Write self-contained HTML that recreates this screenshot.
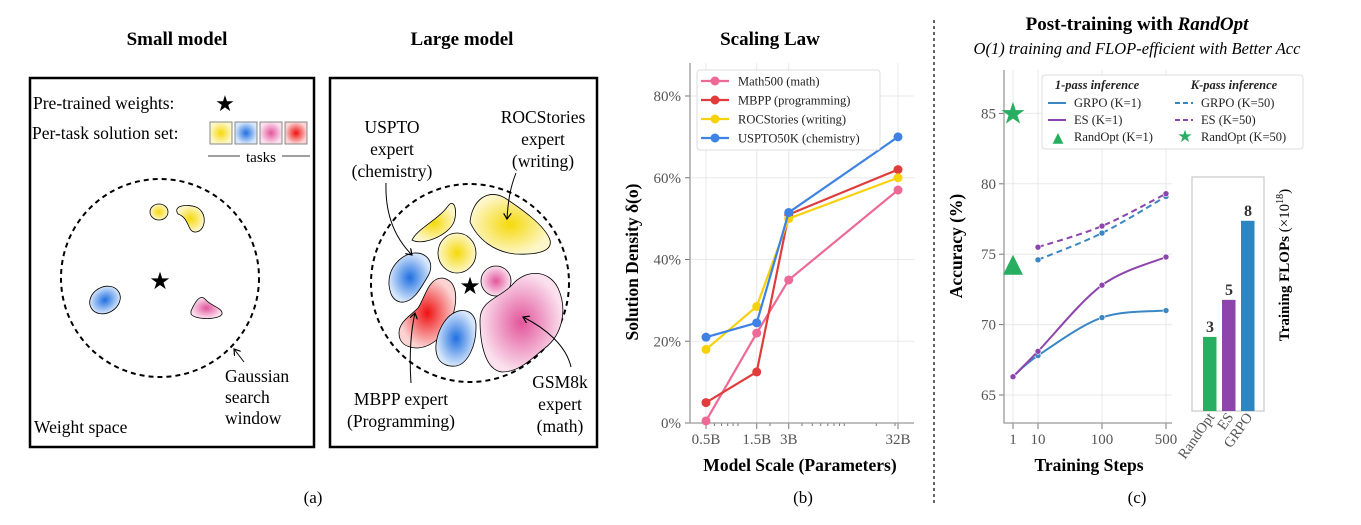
<!DOCTYPE html>
<html><head><meta charset="utf-8"><style>
html,body{margin:0;padding:0;background:#fff;}
svg{display:block;font-family:"Liberation Serif",serif;}
</style></head><body>
<svg id="fig" width="1361" height="525" viewBox="0 0 1361 525" xmlns="http://www.w3.org/2000/svg">
<defs>
<radialGradient id="gy"><stop offset="0" stop-color="#f5d90a"/><stop offset="1" stop-color="#fdf6c8"/></radialGradient>
<radialGradient id="gb"><stop offset="0" stop-color="#1f6fe0"/><stop offset="1" stop-color="#d6e6fb"/></radialGradient>
<radialGradient id="gp"><stop offset="0" stop-color="#e2559b"/><stop offset="1" stop-color="#fbe0ee"/></radialGradient>
<radialGradient id="gr"><stop offset="0" stop-color="#ee1111"/><stop offset="1" stop-color="#fbd3d3"/></radialGradient>
<marker id="ah" markerWidth="8" markerHeight="8" refX="6" refY="4" orient="auto"><path d="M0,0 L6,4 L0,8" fill="none" stroke="#000" stroke-width="1.2"/></marker>
</defs>

<!-- Panel (a) -->
<g>
<text x="177" y="45" text-anchor="middle" font-size="19" font-weight="bold">Small model</text>
<text x="462" y="45" text-anchor="middle" font-size="19" font-weight="bold">Large model</text>
<rect x="30" y="78" width="284" height="369" fill="none" stroke="#000" stroke-width="2.5"/>
<rect x="330" y="78" width="267" height="369" fill="none" stroke="#000" stroke-width="2.5"/>
<text x="33" y="109" font-size="17.5">Pre-trained weights:</text>
<text x="225" y="111" text-anchor="middle" font-size="22" font-family="DejaVu Sans">★</text>
<text x="32" y="139" font-size="17.5">Per-task solution set:</text>
<rect x="210" y="122" width="22" height="22" fill="url(#gy)" stroke="#888"/>
<rect x="235" y="122" width="22" height="22" fill="url(#gb)" stroke="#888"/>
<rect x="260" y="122" width="22" height="22" fill="url(#gp)" stroke="#888"/>
<rect x="285" y="122" width="22" height="22" fill="url(#gr)" stroke="#888"/>
<line x1="208" y1="156" x2="240" y2="156" stroke="#000" stroke-width="0.8"/><line x1="282" y1="156" x2="310" y2="156" stroke="#000" stroke-width="0.8"/>
<text x="261" y="162" text-anchor="middle" font-size="15">tasks</text>
<circle cx="160" cy="278" r="99" fill="none" stroke="#000" stroke-width="2" stroke-dasharray="5,4"/>
<ellipse cx="159" cy="212" rx="9" ry="8" fill="url(#gy)" stroke="#000" stroke-width="0.8"/>
<path d="M178,214 C172,205 188,204 196,207 C208,212 206,231 196,232 C187,233 190,218 178,214Z" fill="url(#gy)" stroke="#000" stroke-width="0.8"/>
<ellipse cx="105" cy="300" rx="16" ry="13" transform="rotate(-30 105 300)" fill="url(#gb)" stroke="#000" stroke-width="0.8"/>
<path d="M191,311 C195,302 200,293 206,300 C211,306 223,308 222,314 C220,320 194,320 191,314Z" fill="url(#gp)" stroke="#000" stroke-width="0.8"/>
<text x="160" y="289" text-anchor="middle" font-size="24" font-family="DejaVu Sans">★</text>
<line x1="244" y1="362" x2="234" y2="349" stroke="#000" stroke-width="1" marker-end="url(#ah)"/>
<text font-size="17.5"><tspan x="225" y="382">Gaussian</tspan><tspan x="225" y="403">search</tspan><tspan x="225" y="424">window</tspan></text>
<text x="34" y="433" font-size="17.5">Weight space</text>

<circle cx="470" cy="283" r="99" fill="none" stroke="#000" stroke-width="2" stroke-dasharray="5,4"/>
<path d="M412,240 C418,228 438,220 448,206 C454,198 458,210 454,222 C448,236 422,246 412,240Z" fill="url(#gy)" stroke="#000" stroke-width="0.8"/>
<ellipse cx="457" cy="253" rx="19" ry="20" fill="url(#gy)" stroke="#000" stroke-width="0.8"/>
<path d="M470,222 C472,200 488,188 505,198 C520,208 545,225 550,240 C553,252 535,255 515,254 C495,252 478,240 470,222Z" fill="url(#gy)" stroke="#000" stroke-width="0.8"/>
<path d="M389,285 C388,268 400,255 414,253 C428,252 435,264 428,276 C420,290 412,304 400,302 C392,300 390,293 389,285Z" fill="url(#gb)" stroke="#000" stroke-width="0.8"/>
<path d="M399,333 C399,322 410,316 418,308 C425,298 428,278 442,278 C458,280 458,300 452,318 C446,334 432,348 416,348 C404,347 399,342 399,333Z" fill="url(#gr)" stroke="#000" stroke-width="0.8"/>
<path d="M438,358 C432,345 440,322 452,314 C464,306 477,312 476,328 C476,345 468,364 456,366 C448,367 441,364 438,358Z" fill="url(#gb)" stroke="#000" stroke-width="0.8"/>
<circle cx="496" cy="281" r="15" fill="url(#gp)" stroke="#000" stroke-width="0.8"/>
<path d="M480,320 C480,300 500,298 512,285 C524,270 548,268 558,288 C568,310 562,335 545,348 C532,358 520,372 502,372 C484,370 480,340 480,320Z" fill="url(#gp)" stroke="#000" stroke-width="0.8"/>
<text x="470" y="294" text-anchor="middle" font-size="24" font-family="DejaVu Sans">★</text>
<text text-anchor="middle" font-size="17.5"><tspan x="392" y="133">USPTO</tspan><tspan x="392" y="155">expert</tspan><tspan x="392" y="177">(chemistry)</tspan></text>
<text text-anchor="middle" font-size="17.5"><tspan x="543" y="123">ROCStories</tspan><tspan x="543" y="145">expert</tspan><tspan x="543" y="167">(writing)</tspan></text>
<text text-anchor="middle" font-size="17.5"><tspan x="401" y="405">MBPP expert</tspan><tspan x="401" y="427">(Programming)</tspan></text>
<text text-anchor="middle" font-size="17.5"><tspan x="560" y="388">GSM8k</tspan><tspan x="560" y="410">expert</tspan><tspan x="560" y="432">(math)</tspan></text>
<path d="M386,183 C385,215 395,238 412,255" fill="none" stroke="#000" stroke-width="1" marker-end="url(#ah)"/>
<path d="M516,173 C510,188 508,202 507,219" fill="none" stroke="#000" stroke-width="1" marker-end="url(#ah)"/>
<path d="M411,383 C409,355 411,330 415,313" fill="none" stroke="#000" stroke-width="1" marker-end="url(#ah)"/>
<path d="M571,367 C566,345 545,328 523,317" fill="none" stroke="#000" stroke-width="1" marker-end="url(#ah)"/>
<text x="313" y="503" text-anchor="middle" font-size="17">(a)</text>
</g>

<line x1="934" y1="20" x2="934" y2="505" stroke="#000" stroke-width="1.2" stroke-dasharray="3,3"/>
<text x="803" y="503" text-anchor="middle" font-size="17">(b)</text>
<text x="1137" y="503" text-anchor="middle" font-size="17">(c)</text>
<text x="770" y="45" text-anchor="middle" font-size="19" font-weight="bold">Scaling Law</text>
<text x="1137" y="30" text-anchor="middle" font-size="19" font-weight="bold">Post-training with <tspan font-style="italic">RandOpt</tspan></text>
<text x="1137" y="54" text-anchor="middle" font-size="16.5" font-style="italic">O(1) training and FLOP-efficient with Better Acc</text>
<g id="pb"></g>
<g id="pc"></g>
</svg>
<script>
// ---- Panel b data ----
const scaleModels = [0.5, 1.5, 3, 32];
const scaleLabels = ["0.5B", "1.5B", "3B", "32B"];
const yTicksB = [0, 20, 40, 60, 80];
const seriesNamesB = ["Math500 (math)", "MBPP (programming)", "ROCStories (writing)", "USPTO50K (chemistry)"];
const math500 = [0.5, 22, 35, 57];
const mbpp = [5, 12.5, 51, 62];
const rocstories = [18, 28.5, 50, 60];
const uspto = [21, 24.5, 51.5, 70];
const colorsB = ["#ec6a95", "#e03c3c", "#f7d10c", "#3e82e4"];

// ---- Panel c data ----
const steps = [1, 10, 100, 500];
const yTicksC = [65, 70, 75, 80, 85];
const grpoK1 = [66.3, 67.8, 70.5, 71.0];
const esK1 = [66.3, 68.1, 72.8, 74.8];
const grpoK50 = [null, 74.6, 76.5, 79.1];
const esK50 = [null, 75.5, 77.0, 79.3];
const randoptK1 = 74.4;
const randoptK50 = 85;
const flopMethods = ["RandOpt", "ES", "GRPO"];
const flopValues = [3.0, 4.5, 7.7];
const flopLabels = ["3", "5", "8"];

const NS = "http://www.w3.org/2000/svg";
function mk(parent, tag, attrs, txt) {
  const e = document.createElementNS(NS, tag);
  for (const k in attrs) e.setAttribute(k, attrs[k]);
  if (txt !== undefined) e.textContent = txt;
  parent.appendChild(e);
  return e;
}
const GRID = "#e8e8e8", TXT = "#555";

// ---------- Panel b ----------
const pb = document.getElementById("pb");
const xB = v => 706 + 106.3 * Math.log10(v / 0.5);
const yB = v => 423 - v * 4.0875;
yTicksB.forEach(t => {
  const g = mk(pb, "line", {x1: 690, x2: 914, y1: yB(t), y2: yB(t), stroke: GRID, "stroke-width": 1});
  
  
  const tk = mk(pb, "line", {x1: 685, x2: 690, y1: yB(t), y2: yB(t), stroke: "#777"});
  
  
  const l = mk(pb, "text", {x: 681, y: yB(t) + 5, "text-anchor": "end", "font-size": 15, fill: TXT}, t + "%");
  
  
});
scaleModels.forEach((m, i) => {
  const g = mk(pb, "line", {x1: xB(m), x2: xB(m), y1: 63, y2: 423, stroke: GRID});
  
  
  const tk = mk(pb, "line", {x1: xB(m), x2: xB(m), y1: 423, y2: 429, stroke: "#777"});
  
  
  const l = mk(pb, "text", {x: xB(m), y: 444, "text-anchor": "middle", "font-size": 15, fill: TXT}, scaleLabels[i]);
  
  
});
[0.6,0.7,0.8,0.9,1,2,4,5,6,7,8,9,10,20,30].forEach(m => {
  const tk = mk(pb, "line", {x1: xB(m), x2: xB(m), y1: 423, y2: 426, stroke: "#777"});
  
  
});
const axB = mk(pb, "path", {d: "M690,63 V423 H914", fill: "none", stroke: "#999", "stroke-width": 1.3});


[math500, mbpp, rocstories, uspto].forEach((s, si) => {
  const pl = mk(pb, "polyline", {points: s.map((v, i) => xB(scaleModels[i]) + "," + yB(v)).join(" "), fill: "none", stroke: colorsB[si], "stroke-width": 2.2});
  
  
  s.forEach((v, i) => {
    const c = mk(pb, "circle", {cx: xB(scaleModels[i]), cy: yB(v), r: 4.5, fill: colorsB[si]});
    
    
  });
});
const lgB = mk(pb, "rect", {x: 697, y: 70, width: 183, height: 80, rx: 3, fill: "#fff", "fill-opacity": 0.9, stroke: "#ddd"});


seriesNamesB.forEach((n, i) => {
  const y = 81 + i * 19;
  const ln = mk(pb, "line", {x1: 701, x2: 729, y1: y, y2: y, stroke: colorsB[i], "stroke-width": 2.2});
  
  
  const c = mk(pb, "circle", {cx: 715, cy: y, r: 4.5, fill: colorsB[i]});
  
  
  const t = mk(pb, "text", {x: 738, y: y + 4.5, "font-size": 12.5, fill: "#222"}, n);
  
  
});
const xlB = mk(pb, "text", {x: 800, y: 471, "text-anchor": "middle", "font-size": 17.5, "font-weight": "bold"}, "Model Scale (Parameters)");


const ylB = mk(pb, "text", {x: 0, y: 0, "text-anchor": "middle", "font-size": 17.5, "font-weight": "bold", transform: "translate(638,262) rotate(-90)"}, "Solution Density δ(o)");



// ---------- Panel c ----------
const pc = document.getElementById("pc");
function xC(s) { // piecewise: 10,100,500 evenly spaced; 1 offset before 10
  const idx = steps.indexOf(s);
  return idx === 0 ? 1013 : 1038 + (idx - 1) * 64;
}
const yC = v => 395 - (v - 65) * 14.08;
yTicksC.forEach(t => {
  const g = mk(pc, "line", {x1: 1004, x2: 1172, y1: yC(t), y2: yC(t), stroke: GRID});
  
  
  const tk = mk(pc, "line", {x1: 999, x2: 1004, y1: yC(t), y2: yC(t), stroke: "#777"});
  
  
  const l = mk(pc, "text", {x: 996, y: yC(t) + 5, "text-anchor": "end", "font-size": 15, fill: TXT}, t);
  
  
});
steps.forEach(s => {
  const g = mk(pc, "line", {x1: xC(s), x2: xC(s), y1: 70, y2: 423, stroke: GRID});
  
  
  const tk = mk(pc, "line", {x1: xC(s), x2: xC(s), y1: 423, y2: 429, stroke: "#777"});
  
  
  const l = mk(pc, "text", {x: xC(s), y: 444, "text-anchor": "middle", "font-size": 15, fill: TXT}, s);
  
  
});
const axC = mk(pc, "path", {d: "M1004,70 V423 H1172", fill: "none", stroke: "#999", "stroke-width": 1.3});


function smooth(pts) {
  let d = "M" + pts[0][0] + "," + pts[0][1];
  for (let i = 0; i < pts.length - 1; i++) {
    const p0 = pts[Math.max(0, i - 1)], p1 = pts[i], p2 = pts[i + 1], p3 = pts[Math.min(pts.length - 1, i + 2)];
    const c1 = [p1[0] + (p2[0] - p0[0]) / 6, p1[1] + (p2[1] - p0[1]) / 6];
    const c2 = [p2[0] - (p3[0] - p1[0]) / 6, p2[1] - (p3[1] - p1[1]) / 6];
    d += " C" + c1 + " " + c2 + " " + p2;
  }
  return d;
}
const BLUE = "#3a87c4", PURP = "#8e44ad", GREEN = "#27ae60";
[[grpoK1, BLUE, null, "grpo-k1"], [esK1, PURP, null, "es-k1"], [grpoK50, BLUE, "6,4", "grpo-k50"], [esK50, PURP, "6,4", "es-k50"]].forEach(([s, col, dash, nm]) => {
  const pts = [];
  s.forEach((v, i) => { if (v !== null) pts.push([xC(steps[i]), yC(v)]); });
  const a = {d: smooth(pts), fill: "none", stroke: col, "stroke-width": 2};
  if (dash) a["stroke-dasharray"] = dash;
  const p = mk(pc, "path", a);
  
  
  pts.forEach(pt => {
    const c = mk(pc, "circle", {cx: pt[0], cy: pt[1], r: 3, fill: col, stroke: "#fff", "stroke-width": 0.6});
    
    
  });
});
const tri = mk(pc, "text", {x: xC(1), y: yC(randoptK1) + 9, "text-anchor": "middle", "font-size": 26, fill: GREEN, "font-family": "DejaVu Sans"}, "▲");


const st = mk(pc, "text", {x: xC(1), y: yC(randoptK50) + 10, "text-anchor": "middle", "font-size": 30, fill: GREEN, "font-family": "DejaVu Sans"}, "★");


// legend
const lgC = mk(pc, "rect", {x: 1042, y: 75, width: 261, height: 74, rx: 3, fill: "#fff", stroke: "#ddd"});


const h1 = mk(pc, "text", {x: 1097, y: 89, "text-anchor": "middle", "font-size": 12.5, "font-style": "italic", "font-weight": "bold", fill: "#222"}, "1-pass inference");


const h2 = mk(pc, "text", {x: 1234, y: 89, "text-anchor": "middle", "font-size": 12.5, "font-style": "italic", "font-weight": "bold", fill: "#222"}, "K-pass inference");


const legC = [
  [1046, 107, "line", BLUE, null, "GRPO (K=1)"], [1046, 124, "line", PURP, null, "ES (K=1)"], [1046, 141, "tri", GREEN, null, "RandOpt (K=1)"],
  [1173, 107, "line", BLUE, "5,3", "GRPO (K=50)"], [1173, 124, "line", PURP, "5,3", "ES (K=50)"], [1173, 141, "star", GREEN, null, "RandOpt (K=50)"]];
legC.forEach(([x, y, kind, col, dash, label]) => {
  if (kind === "line") {
    const a = {x1: x + 2, x2: x + 20, y1: y - 4, y2: y - 4, stroke: col, "stroke-width": 2};
    if (dash) a["stroke-dasharray"] = dash;
    const l = mk(pc, "line", a);
    
    
  } else {
    const m = mk(pc, "text", {x: x + 12, y: y + 1, "text-anchor": "middle", "font-size": kind === "tri" ? 14 : 17, fill: col, "font-family": "DejaVu Sans"}, kind === "tri" ? "▲" : "★");
    
    
  }
  const t = mk(pc, "text", {x: x + 28, y: y, "font-size": 12.5, fill: "#222"}, label);
  
  
});
const xlC = mk(pc, "text", {x: 1089, y: 471, "text-anchor": "middle", "font-size": 17.5, "font-weight": "bold"}, "Training Steps");


const ylC = mk(pc, "text", {x: 0, y: 0, "text-anchor": "middle", "font-size": 17.5, "font-weight": "bold", transform: "translate(962,246) rotate(-90)"}, "Accuracy (%)");


// inset bars
const ib = mk(pc, "rect", {x: 1192, y: 177, width: 72, height: 234, fill: "#fff", stroke: "#ccc", "stroke-width": 1.3});


const barColors = [GREEN, PURP, "#2e86c1"];
const yF = v => 411 - v * 24.7;
flopValues.forEach((v, i) => {
  const x = 1203 + i * 19;
  const b = mk(pc, "rect", {x: x, y: yF(v), width: 13.5, height: 411 - yF(v), fill: barColors[i]});
  
  
  const t = mk(pc, "text", {x: x + 7, y: yF(v) - 5, "text-anchor": "middle", "font-size": 16, "font-weight": "bold", fill: "#333"}, flopLabels[i]);
  
  
  const l = mk(pc, "text", {x: 0, y: 0, "text-anchor": "end", "font-size": 14.5, fill: TXT, transform: "translate(" + (x + 12) + ",417) rotate(-55)"}, flopMethods[i]);
  
  
});
const fy = mk(pc, "text", {x: 0, y: 0, "text-anchor": "middle", "font-size": 15, "font-weight": "bold", transform: "translate(1289,265) rotate(-90)"});


fy.textContent = "Training FLOPs ";
const ts = mk(fy, "tspan", {"font-weight": "normal"}, "(×10");
const sup = mk(fy, "tspan", {"font-weight": "normal", "font-size": 10, dy: -6}, "18");
const cl = mk(fy, "tspan", {"font-weight": "normal", dy: 6}, ")");
</script>
</body></html>
